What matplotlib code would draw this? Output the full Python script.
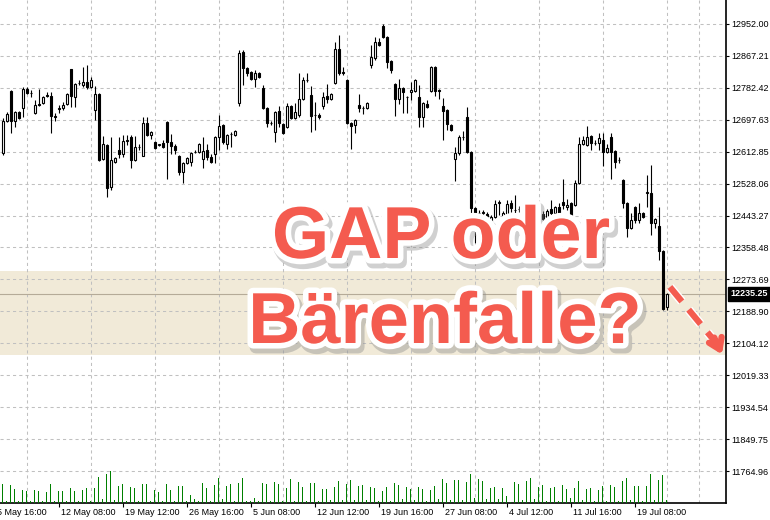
import matplotlib
matplotlib.use("Agg")
import matplotlib.pyplot as plt
import matplotlib.patheffects as pe
import numpy as np

# candles (one per bar)
opens = [12609, 12694, 12774, 12694, 12718, 12729, 12779, 12770, 12716, 12740,
         12742, 12764, 12761, 12708, 12727, 12729, 12740, 12833, 12758, 12795,
         12790, 12798, 12785, 12724, 12766, 12593, 12631, 12519, 12585, 12617,
         12607, 12641, 12652, 12591, 12625, 12601, 12689, 12657, 12639, 12630,
         12636, 12692, 12639, 12628, 12601, 12559, 12583, 12585, 12611, 12612,
         12593, 12617, 12599, 12607, 12652, 12684, 12633, 12659, 12657, 12742,
         12878, 12835, 12825, 12806, 12822, 12782, 12729, 12690, 12665, 12721,
         12686, 12679, 12734, 12702, 12710, 12753, 12802, 12763, 12711, 12710,
         12734, 12761, 12753, 12795, 12886, 12825, 12803, 12689, 12684, 12737,
         12730, 12729, 12843, 12862, 12904, 12947, 12917, 12854, 12793, 12753,
         12782, 12759, 12771, 12774, 12758, 12705, 12740, 12774, 12838, 12777,
         12734, 12724, 12684, 12593, 12609, 12651, 12705, 12612, 12463, 12451,
         12450, 12448, 12405, 12439, 12476, 12437, 12442, 12477, 12459, 12462,
         12453, 12465, 12420, 12390, 12430, 12448, 12435, 12461, 12450, 12466,
         12479, 12466, 12477, 12471, 12530, 12633, 12631, 12655, 12637, 12636,
         12644, 12612, 12652, 12615, 12592, 12538, 12477, 12410, 12466, 12432,
         12450, 12503, 12503, 12424, 12416, 12349, 12200]
highs = [12702, 12718, 12777, 12721, 12721, 12785, 12785, 12777, 12750, 12779,
         12761, 12771, 12771, 12716, 12737, 12745, 12769, 12833, 12795, 12803,
         12838, 12843, 12811, 12787, 12769, 12655, 12633, 12652, 12599, 12652,
         12657, 12657, 12657, 12655, 12633, 12705, 12705, 12668, 12641, 12634,
         12644, 12695, 12660, 12633, 12604, 12585, 12599, 12612, 12617, 12636,
         12652, 12633, 12607, 12655, 12710, 12686, 12660, 12665, 12671, 12883,
         12883, 12838, 12828, 12830, 12825, 12790, 12732, 12694, 12721, 12734,
         12689, 12742, 12737, 12742, 12822, 12811, 12822, 12787, 12745, 12716,
         12771, 12793, 12769, 12904, 12923, 12838, 12806, 12692, 12700, 12766,
         12734, 12745, 12896, 12917, 12915, 12952, 12920, 12857, 12795, 12806,
         12785, 12762, 12798, 12806, 12790, 12745, 12750, 12840, 12840, 12780,
         12755, 12726, 12686, 12625, 12657, 12668, 12732, 12614, 12466, 12458,
         12458, 12452, 12445, 12485, 12485, 12455, 12485, 12485, 12498, 12469,
         12479, 12470, 12425, 12435, 12452, 12455, 12460, 12485, 12469, 12477,
         12540, 12487, 12480, 12538, 12652, 12655, 12681, 12657, 12644, 12663,
         12663, 12633, 12663, 12617, 12599, 12540, 12479, 12450, 12468, 12477,
         12452, 12551, 12577, 12437, 12466, 12352, 12237]
lows = [12604, 12692, 12663, 12679, 12700, 12705, 12766, 12758, 12713, 12735,
        12740, 12758, 12663, 12694, 12716, 12724, 12737, 12732, 12732, 12790,
        12785, 12779, 12782, 12697, 12588, 12591, 12493, 12511, 12583, 12596,
        12599, 12630, 12570, 12588, 12617, 12601, 12655, 12647, 12620, 12627,
        12623, 12540, 12607, 12607, 12551, 12530, 12580, 12575, 12609, 12609,
        12570, 12591, 12583, 12583, 12617, 12633, 12620, 12625, 12655, 12734,
        12790, 12814, 12803, 12785, 12808, 12727, 12679, 12684, 12639, 12679,
        12660, 12676, 12700, 12700, 12705, 12750, 12798, 12665, 12671, 12700,
        12727, 12742, 12750, 12793, 12817, 12817, 12686, 12620, 12663, 12718,
        12713, 12727, 12835, 12856, 12894, 12915, 12835, 12822, 12708, 12740,
        12716, 12716, 12750, 12771, 12679, 12679, 12729, 12771, 12761, 12753,
        12644, 12671, 12668, 12535, 12604, 12644, 12610, 12445, 12370, 12442,
        12440, 12331, 12390, 12437, 12445, 12430, 12440, 12453, 12440, 12453,
        12445, 12400, 12320, 12380, 12420, 12350, 12430, 12445, 12445, 12440,
        12461, 12458, 12440, 12469, 12528, 12631, 12628, 12617, 12631, 12617,
        12575, 12609, 12540, 12570, 12583, 12463, 12386, 12408, 12424, 12424,
        12437, 12466, 12392, 12410, 12325, 12193, 12193]
closes = [12694, 12713, 12694, 12718, 12702, 12779, 12769, 12768, 12737, 12737,
          12758, 12762, 12708, 12706, 12729, 12737, 12766, 12761, 12793, 12796,
          12798, 12785, 12803, 12766, 12591, 12633, 12517, 12591, 12596, 12607,
          12641, 12643, 12591, 12625, 12626, 12689, 12657, 12665, 12623, 12632,
          12625, 12639, 12628, 12617, 12559, 12583, 12596, 12609, 12613, 12633,
          12615, 12599, 12585, 12652, 12681, 12639, 12657, 12661, 12668, 12875,
          12835, 12822, 12806, 12822, 12811, 12729, 12689, 12688, 12718, 12689,
          12663, 12734, 12702, 12718, 12753, 12803, 12804, 12708, 12709, 12705,
          12758, 12753, 12766, 12886, 12822, 12823, 12689, 12681, 12697, 12729,
          12728, 12742, 12864, 12904, 12896, 12917, 12851, 12830, 12753, 12782,
          12771, 12757, 12777, 12803, 12705, 12742, 12732, 12838, 12774, 12775,
          12721, 12686, 12671, 12609, 12652, 12653, 12612, 12463, 12450, 12449,
          12452, 12410, 12440, 12474, 12478, 12450, 12474, 12463, 12457, 12460,
          12471, 12420, 12390, 12430, 12445, 12435, 12455, 12450, 12466, 12450,
          12471, 12471, 12442, 12530, 12633, 12644, 12652, 12636, 12635, 12649,
          12612, 12623, 12612, 12585, 12590, 12477, 12410, 12432, 12432, 12450,
          12440, 12505, 12424, 12434, 12349, 12195, 12235.25]

# tick volume (hundreds)
volume = [19, 2, 18, 14, 2, 13, 12, 2, 13, 12,
          2, 11, 19, 2, 12, 12, 2, 15, 12, 2,
          13, 15, 2, 15, 26, 4, 29, 32, 3, 17,
          19, 2, 16, 15, 2, 19, 19, 2, 13, 11,
          2, 19, 13, 2, 17, 17, 2, 8, 4, 2,
          20, 15, 2, 18, 25, 4, 17, 19, 2, 20,
          25, 2, 2, 5, 2, 20, 19, 2, 21, 19,
          2, 15, 24, 2, 21, 16, 2, 20, 20, 2,
          14, 14, 3, 16, 22, 3, 19, 23, 3, 17,
          18, 3, 16, 15, 2, 12, 16, 2, 20, 18,
          4, 16, 14, 3, 16, 14, 2, 13, 17, 4,
          24, 20, 3, 23, 23, 3, 21, 29, 5, 24,
          22, 4, 15, 16, 4, 15, 7, 1, 21, 19,
          3, 22, 25, 4, 16, 18, 2, 15, 16, 2,
          18, 14, 5, 15, 22, 3, 14, 15, 2, 13,
          17, 2, 18, 16, 2, 22, 25, 3, 17, 17,
          2, 17, 29, 3, 23, 28, 3]

price_levels = [12952.00, 12867.21, 12782.42, 12697.63, 12612.85, 12528.06, 12443.27,
                12358.48, 12273.69, 12188.90, 12104.12, 12019.33, 11934.54, 11849.75,
                11764.96]
date_labels = ["5 May 16:00", "12 May 08:00", "19 May 12:00", "26 May 16:00", "5 Jun 08:00",
               "12 Jun 12:00", "19 Jun 16:00", "27 Jun 08:00", "4 Jul 12:00", "11 Jul 16:00",
               "19 Jul 08:00"]
date_bars = [-2, 14, 30, 46, 62, 78, 94, 110, 126, 142, 158]
last_price = 12235.25
zone = (12073, 12296)

coral = "#F45B4F"
small_font = "Liberation Sans"

o = np.array(opens, float)
h = np.array(highs, float)
l = np.array(lows, float)
c = np.array(closes, float)
x = np.arange(len(o))

fig = plt.figure(figsize=(7.7, 5.2), dpi=100)
rect = [0, 17 / 520, 726 / 770, 503 / 520]
ax = fig.add_axes(rect)
ax.set_xlim(-0.675, 180.825)
ax.set_ylim(11680.0, 13015.7)

# zone + last price line
ax.axhspan(zone[0], zone[1], color="#F1EAD8", zorder=0, lw=0)
ax.axhline(last_price, color="#B5AB98", lw=0.8, zorder=1)

# grid
ax.set_yticks(price_levels)
ax.set_yticklabels(["%.2f" % p for p in price_levels], family=small_font)
ax.set_xticks([k for k in date_bars if k >= 0])
ax.set_xticklabels([])
ax.set_xticks(np.arange(6, 181, 8), minor=True)
ax.grid(True, axis="y", which="major", color="#C0C0C0", lw=0.75, ls=(0, (3, 3)), zorder=0.5)
ax.grid(True, axis="x", which="minor", color="#C0C0C0", lw=0.75, ls=(0, (3, 3)), zorder=0.5)
ax.set_axisbelow(True)

ax.yaxis.tick_right()
ax.tick_params(axis="y", which="major", length=2.5, width=0.8, pad=1.5, labelsize=6.5, colors="black")
ax.tick_params(axis="x", which="major", length=3, width=0.8, direction="out")
ax.tick_params(axis="x", which="minor", length=0)
for s in ["left", "top"]:
    ax.spines[s].set_visible(False)
ax.spines["right"].set_linewidth(1.2)
ax.spines["bottom"].set_linewidth(1.2)

for k, lab in zip(date_bars, date_labels):
    ax.annotate(lab, xy=(k, 0), xycoords=("data", "axes fraction"), xytext=(2, -5),
                textcoords="offset pixels", ha="left", va="top", fontsize=6.5,
                family=small_font, annotation_clip=False)

# candles
ax.vlines(x, l, h, color="black", lw=0.8, zorder=3)
up = c >= o
ax.bar(x[up], np.maximum(c[up] - o[up], 0.5), bottom=o[up], width=0.5,
       facecolor="white", edgecolor="black", lw=0.8, zorder=4)
ax.bar(x[~up], np.maximum(o[~up] - c[~up], 0.5), bottom=c[~up], width=0.5,
       facecolor="black", edgecolor="black", lw=0.8, zorder=4)

# last price tag
ax.annotate("%.2f" % last_price, xy=(1, last_price), xycoords=("axes fraction", "data"),
            xytext=(4, 0), textcoords="offset pixels", va="center", ha="left",
            fontsize=6.5, family=small_font, fontweight="bold", color="white",
            annotation_clip=False,
            bbox=dict(boxstyle="square,pad=0.25", fc="black", ec="black"))

# volumes
axv = fig.add_axes(rect, sharex=ax)
axv.set_ylim(0, 503)
axv.patch.set_visible(False)
axv.axis("off")
axv.bar(x, volume, width=0.3, color="#008000", lw=0)

# arrow
arrow_fx = [pe.Stroke(linewidth=6.5, foreground="white"), pe.Normal()]
axv.plot([166.8, 178.8], [216, 158], color=coral, lw=4.5, ls=(0, (3.0, 1.7)),
         solid_capstyle="butt", path_effects=arrow_fx)
axv.annotate("", xy=(180.1, 146), xytext=(177.6, 168),
             arrowprops=dict(arrowstyle="->,head_length=0.75,head_width=0.5",
                             color=coral, lw=4.5),
             annotation_clip=False)

# headline
text_fx = [pe.Stroke(linewidth=9, foreground="#8a8a8a", alpha=0.4, offset=(2, -3)),
           pe.Stroke(linewidth=8, foreground="white"), pe.Normal()]
fig.text(441 / 770, 1 - 258 / 520, "GAP oder", ha="center", va="baseline", fontsize=53,
         fontweight="bold", family="Liberation Sans", color=coral, path_effects=text_fx)
fig.text(445 / 770, 1 - 343 / 520, "Bärenfalle?", ha="center", va="baseline", fontsize=52,
         fontweight="bold", family="Liberation Sans", color=coral, path_effects=text_fx)

fig.savefig("out.png", dpi=100)
